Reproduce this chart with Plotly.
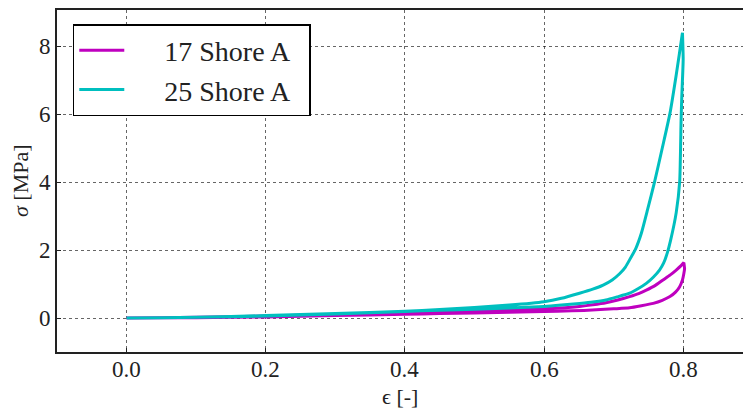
import plotly.graph_objects as go

# 17 Shore A
load17_x = [0.0, 0.1, 0.2, 0.3, 0.4, 0.45, 0.5, 0.55, 0.6, 0.63, 0.651, 0.67, 0.689, 0.706, 0.723,
            0.736, 0.747, 0.76, 0.771, 0.781, 0.790, 0.797, 0.801]
load17_y = [0.0, 0.02, 0.06, 0.10, 0.15, 0.18, 0.21, 0.24, 0.27, 0.30, 0.34, 0.39, 0.45, 0.53, 0.63,
            0.72, 0.82, 0.96, 1.12, 1.26, 1.41, 1.54, 1.63]
unload17_x = [0.801, 0.802, 0.801, 0.799, 0.795, 0.789, 0.781, 0.77, 0.757, 0.74, 0.723, 0.7, 0.675,
              0.64, 0.6, 0.5, 0.45, 0.4, 0.3, 0.2, 0.1, 0.0]
unload17_y = [1.63, 1.45, 1.31, 1.12, 0.92, 0.76, 0.63, 0.52, 0.43, 0.36, 0.30, 0.27, 0.24,
              0.21, 0.19, 0.15, 0.13, 0.11, 0.07, 0.03, 0.01, 0.0]

# 25 Shore A
load25_x = [0.0, 0.1, 0.2, 0.3, 0.4, 0.45, 0.5, 0.55, 0.6, 0.625, 0.651, 0.67, 0.685, 0.698, 0.709,
            0.717, 0.723, 0.732, 0.740, 0.749, 0.759, 0.770, 0.781, 0.790, 0.799]
load25_y = [0.0, 0.02, 0.07, 0.13, 0.20, 0.25, 0.31, 0.38, 0.48, 0.58, 0.73, 0.85, 0.97, 1.12, 1.31,
            1.50, 1.71, 2.05, 2.5, 3.2, 4.01, 5.0, 6.02, 7.15, 8.39]
unload25_x = [0.799, 0.800, 0.798, 0.797, 0.795, 0.790, 0.782, 0.777, 0.772, 0.766, 0.757, 0.747,
              0.735, 0.723, 0.705, 0.689, 0.67, 0.651, 0.625, 0.6, 0.5, 0.45, 0.4, 0.3, 0.2, 0.1, 0.0]
unload25_y = [8.39, 7.6, 6.5, 5.82, 4.01, 3.1, 2.29, 1.9, 1.62, 1.41, 1.2, 1.02,
              0.86, 0.73, 0.62, 0.53, 0.47, 0.43, 0.38, 0.34, 0.26, 0.23, 0.19, 0.12, 0.06, 0.02, 0.0]

x_ticks = [0.0, 0.2, 0.4, 0.6, 0.8]
x_labels = ["0.0", "0.2", "0.4", "0.6", "0.8"]
y_ticks = [0, 2, 4, 6, 8]
y_labels = ["0", "2", "4", "6", "8"]

MAG = "#BF00BF"
CYA = "#00BFBF"
SERIF = "Liberation Serif"
NB = "\u00a0"

fig = go.Figure()
fig.add_trace(go.Scatter(x=load17_x + unload17_x, y=load17_y + unload17_y, mode="lines",
                         name=NB * 5 + "17 Shore A" + NB * 2,
                         line=dict(color=MAG, width=3, shape="spline", smoothing=0.5)))
fig.add_trace(go.Scatter(x=load25_x + unload25_x, y=load25_y + unload25_y, mode="lines",
                         name=NB * 5 + "25 Shore A" + NB * 2,
                         line=dict(color=CYA, width=3, shape="spline", smoothing=0.5)))

axis_font = dict(family=SERIF, size=23, color="#222")
title_font = dict(family=SERIF, size=22, color="#222")
grid_col = "rgba(0,0,0,0.6)"

annotations = [
    dict(text=lab, xref="x", yref="paper", x=xv, y=0, xanchor="center", yanchor="top",
         yshift=-3, showarrow=False, font=axis_font)
    for xv, lab in zip(x_ticks, x_labels)
]
annotations += [
    dict(text="ϵ [-]", xref="paper", yref="paper", x=0.5, y=0,
         xanchor="center", yanchor="top", yshift=-30, showarrow=False, font=title_font),
    dict(text="<i>σ</i> [MPa]", xref="paper", yref="paper", x=0, y=0.5,
         xanchor="center", yanchor="middle", xshift=-37, textangle=-90,
         showarrow=False, font=title_font),
]

fig.update_layout(
    width=743, height=409,
    margin=dict(l=57, r=0, t=10, b=57),
    paper_bgcolor="white", plot_bgcolor="white",
    font=dict(family=SERIF, color="#222"),
    showlegend=True,
    legend=dict(x=0.023, y=0.959, xanchor="left", yanchor="top",
                bgcolor="white", bordercolor="black", borderwidth=1.5,
                font=dict(family=SERIF, size=28, color="#222"),
                itemwidth=45, tracegroupgap=0),
    xaxis=dict(range=[-0.1, 0.886], tickvals=x_ticks, ticktext=x_labels, showticklabels=False,
               showline=True, linecolor="#222", linewidth=2,
               mirror=True, ticks="inside", ticklen=4, tickcolor="#222",
               showgrid=True, gridcolor=grid_col, griddash="dot", gridwidth=1,
               zeroline=False, automargin=False),
    yaxis=dict(range=[-1, 9.06], tickvals=y_ticks, ticktext=y_labels,
               tickfont=axis_font, showline=True, linecolor="#222", linewidth=2,
               ticks="inside", ticklen=4, tickcolor="#222",
               showgrid=True, gridcolor=grid_col, griddash="dot", gridwidth=1,
               zeroline=False, automargin=False),
    annotations=annotations,
)

fig.write_html("out.html")
